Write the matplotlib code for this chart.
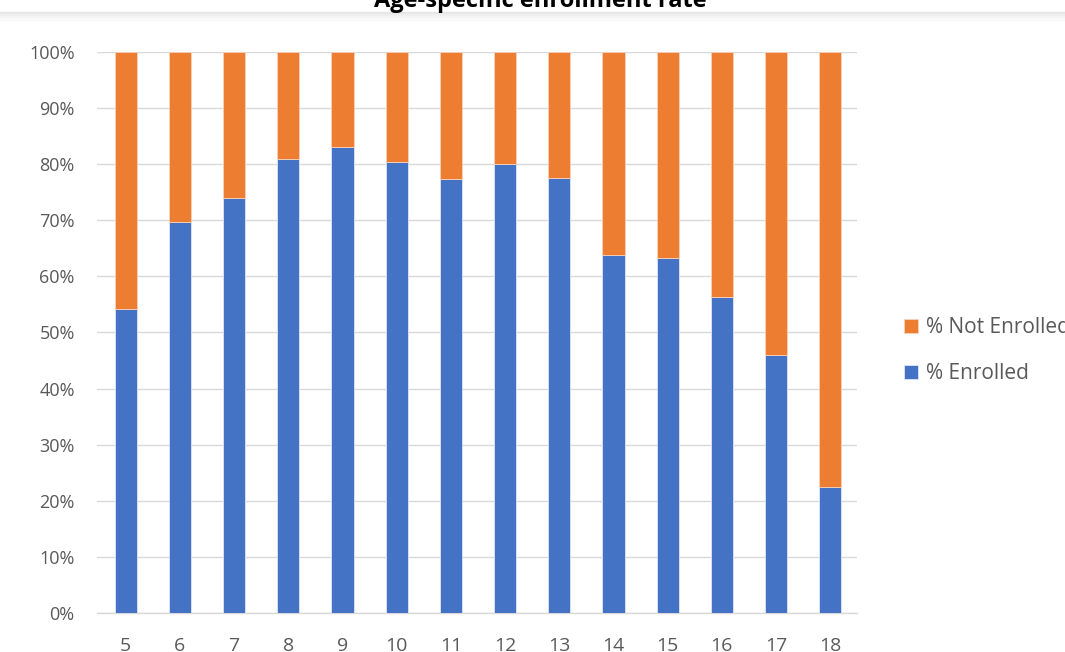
import matplotlib
matplotlib.use('Agg')
from matplotlib import pyplot as plt
from matplotlib.patches import Rectangle
import numpy as np

ages = ['5', '6', '7', '8', '9', '10', '11', '12', '13', '14', '15', '16', '17', '18']
enrolled = [54.2, 69.7, 74.0, 81.0, 83.0, 80.4, 77.4, 80.1, 77.6, 63.8, 63.2, 56.3, 46.0, 22.5]
not_enrolled = [100 - v for v in enrolled]
yticks = [0, 10, 20, 30, 40, 50, 60, 70, 80, 90, 100]

plt.rcParams['font.family'] = ['Open Sans', 'DejaVu Sans']

fig = plt.figure(figsize=(10.65, 6.52), dpi=100)
ax = fig.add_axes([0.091, 0.0598, 0.714, 0.8605])

x = np.arange(len(ages))
b1 = ax.bar(x, enrolled, width=0.41, color='#4472C4', edgecolor='#dfe6f5', linewidth=0.6,
            label='% Enrolled', zorder=3)
b2 = ax.bar(x, not_enrolled, bottom=enrolled, width=0.41, color='#ED7D31', edgecolor='#f7d2bb',
            linewidth=0.6, label='% Not Enrolled', zorder=3)

ax.set_xlim(-0.53, 13.5)
ax.set_ylim(0, 100)
ax.set_yticks(yticks)
ax.set_yticklabels(['%d%%' % v for v in yticks])
ax.set_xticks(x)
ax.set_xticklabels(ages)
ax.tick_params(axis='both', length=0, labelsize=13, labelcolor='#595959')
ax.tick_params(axis='y', pad=16)
ax.tick_params(axis='x', pad=17, labelsize=14)
ax.grid(axis='y', color='#d9d9d9', linewidth=1, zorder=0)
for s in ['top', 'right', 'left']:
    ax.spines[s].set_visible(False)
ax.spines['bottom'].set_color('#d9d9d9')
ax.spines['bottom'].set_linewidth(1)

fig.legend([b2, b1], ['% Not Enrolled', '% Enrolled'], loc='center left',
           bbox_to_anchor=(0.831, 0.462), frameon=False, fontsize=15,
           handlelength=0.7, handleheight=0.7, handletextpad=0.35,
           labelspacing=1.2, labelcolor='#595959')

# title, cut off at the top of the screenshot
fig.text(0.507, 0.989, 'Age-specific enrollment rate', ha='center', va='baseline',
         fontsize=17, fontweight='bold', color='black')
# faint shadow band under the title
for i, c in enumerate(['#e6e6e6', '#eeeeee', '#f4f4f4', '#f9f9f9']):
    fig.patches.append(Rectangle((0, 1 - (14 + 2 * i) / 652.0), 1, 2 / 652.0,
                                 transform=fig.transFigure, color=c, zorder=0))

fig.savefig('out.png', dpi=100)
